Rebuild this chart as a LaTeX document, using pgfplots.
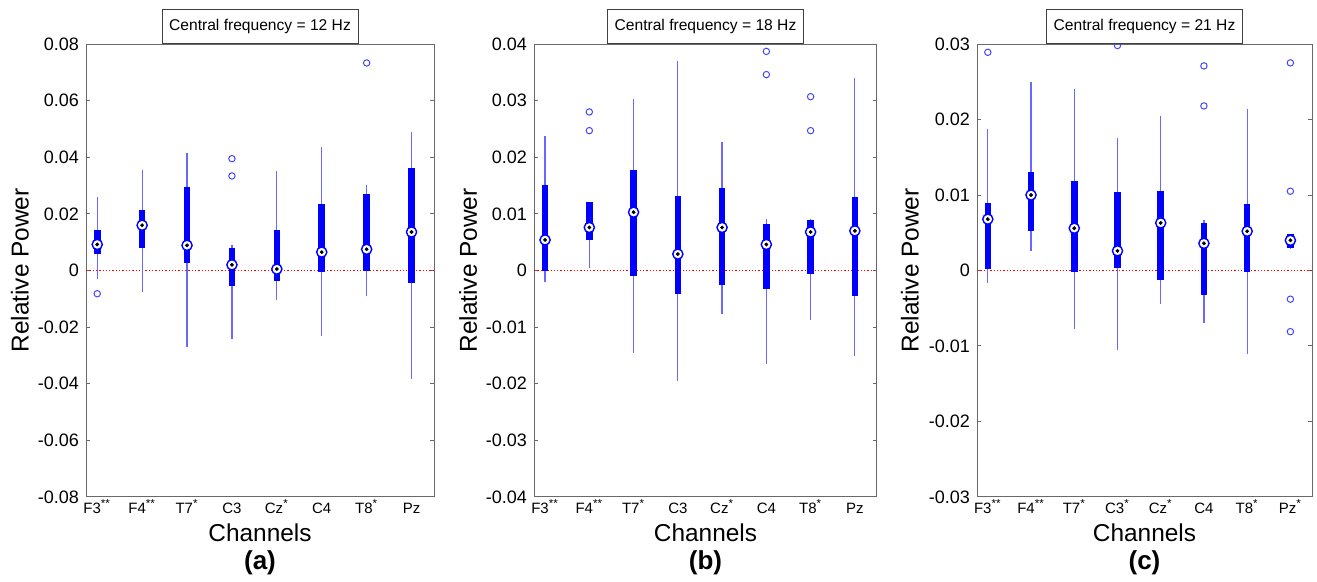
\documentclass[border=0pt]{standalone}
\usepackage{fontspec}
\setmainfont{Liberation Sans}
\usepackage{pgfplots}
\usepackage{pgfplotstable}
\pgfplotsset{compat=1.18}

\definecolor{boxblue}{RGB}{0,0,255}
\definecolor{whiskblue}{RGB}{105,105,255}
\definecolor{outblue}{RGB}{70,70,245}
\definecolor{axgray}{RGB}{105,105,105}
\newcommand{\sig}[1]{\textsuperscript{\fontsize{5.8}{6}\selectfont #1}}

% per channel: lower whisker, lower quartile, median, upper quartile, upper whisker
\pgfplotstableread{
x lw lq med uq uw
1 -0.0030 0.0057 0.0092 0.0143 0.0258
2 -0.0077 0.0079 0.0160 0.0213 0.0356
3 -0.0269 0.0025 0.0089 0.0294 0.0414
4 -0.0242 -0.0056 0.0020 0.0081 0.0090
5 -0.0103 -0.0038 0.0005 0.0143 0.0351
6 -0.0233 -0.0006 0.0065 0.0236 0.0437
7 -0.0091 0.0000 0.0075 0.0271 0.0303
8 -0.0384 -0.0044 0.0136 0.0361 0.0489
}\statsA
\pgfplotstableread{
x y
1 -0.0082
4 0.0395
4 0.0334
7 0.0733
}\outA

\pgfplotstableread{
x lw lq med uq uw
1 -0.0020 0.0000 0.0054 0.0151 0.0237
2 0.0004 0.0054 0.0076 0.0121 0.0121
3 -0.0146 -0.0009 0.0103 0.0178 0.0303
4 -0.0195 -0.0042 0.0029 0.0132 0.0370
5 -0.0076 -0.0026 0.0076 0.0145 0.0227
6 -0.0165 -0.0033 0.0046 0.0082 0.0091
7 -0.0088 -0.0006 0.0068 0.0089 0.0091
8 -0.0151 -0.0045 0.0070 0.0129 0.0340
}\statsB
\pgfplotstableread{
x y
2 0.0280
2 0.0247
6 0.0387
6 0.0346
7 0.0307
7 0.0247
}\outB

\pgfplotstableread{
x lw lq med uq uw
1 -0.0017 0.0002 0.0068 0.0089 0.0187
2 0.0026 0.0052 0.0100 0.0131 0.0250
3 -0.0078 -0.0002 0.0056 0.0118 0.0240
4 -0.0105 0.0003 0.0026 0.0104 0.0176
5 -0.0044 -0.0013 0.0063 0.0105 0.0204
6 -0.0070 -0.0032 0.0036 0.0063 0.0067
7 -0.0110 -0.0002 0.0052 0.0088 0.0214
8 0.0029 0.0030 0.0040 0.0048 0.0049
}\statsC
\pgfplotstableread{
x y
1 0.0289
4 0.0298
6 0.0271
6 0.0218
8 0.0275
8 0.0105
8 -0.0038
8 -0.0081
}\outC

\pgfplotsset{
  eegpanel/.style={
    scale only axis, height=226.5pt, anchor=south west,
    xmin=0.75, xmax=8.5,
    xtick={1,2,3,4,5,6,7,8},
    major x tick style={draw=none},
    tick align=inside, major tick length=2pt,
    axis line style={axgray, line width=0.5pt},
    every tick/.style={axgray, line width=0.5pt},
    scaled y ticks=false, clip=false,
    /pgf/number format/assume math mode=true,
    yticklabel style={font=\fontsize{9}{10}\selectfont,
      /pgf/number format/fixed, /pgf/number format/precision=2},
    xticklabel style={font=\fontsize{7.5}{8}\selectfont, anchor=base, yshift=-8.5pt},
    every axis title/.style={at={(axis description cs:0.5,1)}, anchor=south,
      draw=gray!50!black, fill=white, line width=0.5pt, inner sep=0pt,
      minimum width=98pt, minimum height=17pt, font=\fontsize{7.8}{9}\selectfont},
    every axis x label/.style={at={(axis description cs:0.5,0)}, anchor=base,
      yshift=-22.5pt, font=\fontsize{12.2}{14}\selectfont},
    every axis y label/.style={rotate=90, anchor=center, font=\fontsize{12.2}{14}\selectfont},
    xlabel={Channels}, ylabel={Relative Power},
  },
  % vertical segments drawn as error bars from the table columns
  seg/.style 2 args={#1, only marks, mark=none, forget plot,
    error bars/.cd, y dir=both, y explicit, error mark=none,
    error bar style={draw=#1, line width=#2, solid}},
  whisk/.style={seg={whiskblue}{0.6pt}},
  boxbar/.style={seg={boxblue}{3.3pt}},
  medring/.style={only marks, mark=*, mark size=2.55pt, forget plot,
    mark options={fill=white, draw=boxblue, line width=0.7pt}},
  meddot/.style={only marks, mark=*, mark size=0.75pt, black, forget plot},
  outl/.style={only marks, mark=o, mark size=1.6pt, forget plot,
    mark options={outblue, line width=0.5pt}},
  zeroline/.style={red, densely dotted, line width=0.65pt, forget plot},
}

\begin{document}
\begin{tikzpicture}
\useasboundingbox (0,0) rectangle (658.5pt,291pt);

% (a) 12 Hz
\begin{axis}[eegpanel, name=pa, at={(43pt,42.5pt)}, width=174pt,
  ymin=-0.08, ymax=0.08,
  ytick={-0.08,-0.06,-0.04,-0.02,0,0.02,0.04,0.06,0.08},
  xticklabels={F3\sig{**},F4\sig{**},T7\sig{*},C3,Cz\sig{*},C4,T8\sig{*},Pz},
  title={Central frequency = 12 Hz},
  ylabel style={at={(axis description cs:-0.19,0.5)}},
]
\addplot[zeroline] coordinates {(0.75,0) (8.5,0)};
\addplot[whisk] table[x=x, y=med, y error plus expr=\thisrow{uw}-\thisrow{med}, y error minus expr=\thisrow{med}-\thisrow{lw}] {\statsA};
\addplot[boxbar] table[x=x, y=med, y error plus expr=\thisrow{uq}-\thisrow{med}, y error minus expr=\thisrow{med}-\thisrow{lq}] {\statsA};
\addplot[medring] table[x=x, y=med] {\statsA};
\addplot[meddot] table[x=x, y=med] {\statsA};
\addplot[outl] table[x=x, y=y] {\outA};
\end{axis}
\node[font=\fontsize{13}{15}\selectfont\bfseries, anchor=base] at ([yshift=-36.25pt]pa.south) {(a)};

% (b) 18 Hz
\begin{axis}[eegpanel, name=pb, at={(267pt,42.5pt)}, width=171.5pt,
  ymin=-0.04, ymax=0.04,
  ytick={-0.04,-0.03,-0.02,-0.01,0,0.01,0.02,0.03,0.04},
  xticklabels={F3\sig{**},F4\sig{**},T7\sig{*},C3,Cz\sig{*},C4,T8\sig{*},Pz},
  title={Central frequency = 18 Hz},
  ylabel style={at={(axis description cs:-0.192,0.5)}},
]
\addplot[zeroline] coordinates {(0.75,0) (8.5,0)};
\addplot[whisk] table[x=x, y=med, y error plus expr=\thisrow{uw}-\thisrow{med}, y error minus expr=\thisrow{med}-\thisrow{lw}] {\statsB};
\addplot[boxbar] table[x=x, y=med, y error plus expr=\thisrow{uq}-\thisrow{med}, y error minus expr=\thisrow{med}-\thisrow{lq}] {\statsB};
\addplot[medring] table[x=x, y=med] {\statsB};
\addplot[meddot] table[x=x, y=med] {\statsB};
\addplot[outl] table[x=x, y=y] {\outB};
\end{axis}
\node[font=\fontsize{13}{15}\selectfont\bfseries, anchor=base] at ([yshift=-36.25pt]pb.south) {(b)};

% (c) 21 Hz
\begin{axis}[eegpanel, name=pc, at={(488.5pt,42.5pt)}, width=167.5pt,
  ymin=-0.03, ymax=0.03,
  ytick={-0.03,-0.02,-0.01,0,0.01,0.02,0.03},
  xticklabels={F3\sig{**},F4\sig{**},T7\sig{*},C3\sig{*},Cz\sig{*},C4,T8\sig{*},Pz\sig{*}},
  title={Central frequency = 21 Hz},
  ylabel style={at={(axis description cs:-0.2,0.5)}},
]
\addplot[zeroline] coordinates {(0.75,0) (8.5,0)};
\addplot[whisk] table[x=x, y=med, y error plus expr=\thisrow{uw}-\thisrow{med}, y error minus expr=\thisrow{med}-\thisrow{lw}] {\statsC};
\addplot[boxbar] table[x=x, y=med, y error plus expr=\thisrow{uq}-\thisrow{med}, y error minus expr=\thisrow{med}-\thisrow{lq}] {\statsC};
\addplot[medring] table[x=x, y=med] {\statsC};
\addplot[meddot] table[x=x, y=med] {\statsC};
\addplot[outl] table[x=x, y=y] {\outC};
\end{axis}
\node[font=\fontsize{13}{15}\selectfont\bfseries, anchor=base] at ([yshift=-36.25pt]pc.south) {(c)};
\end{tikzpicture}
\end{document}
